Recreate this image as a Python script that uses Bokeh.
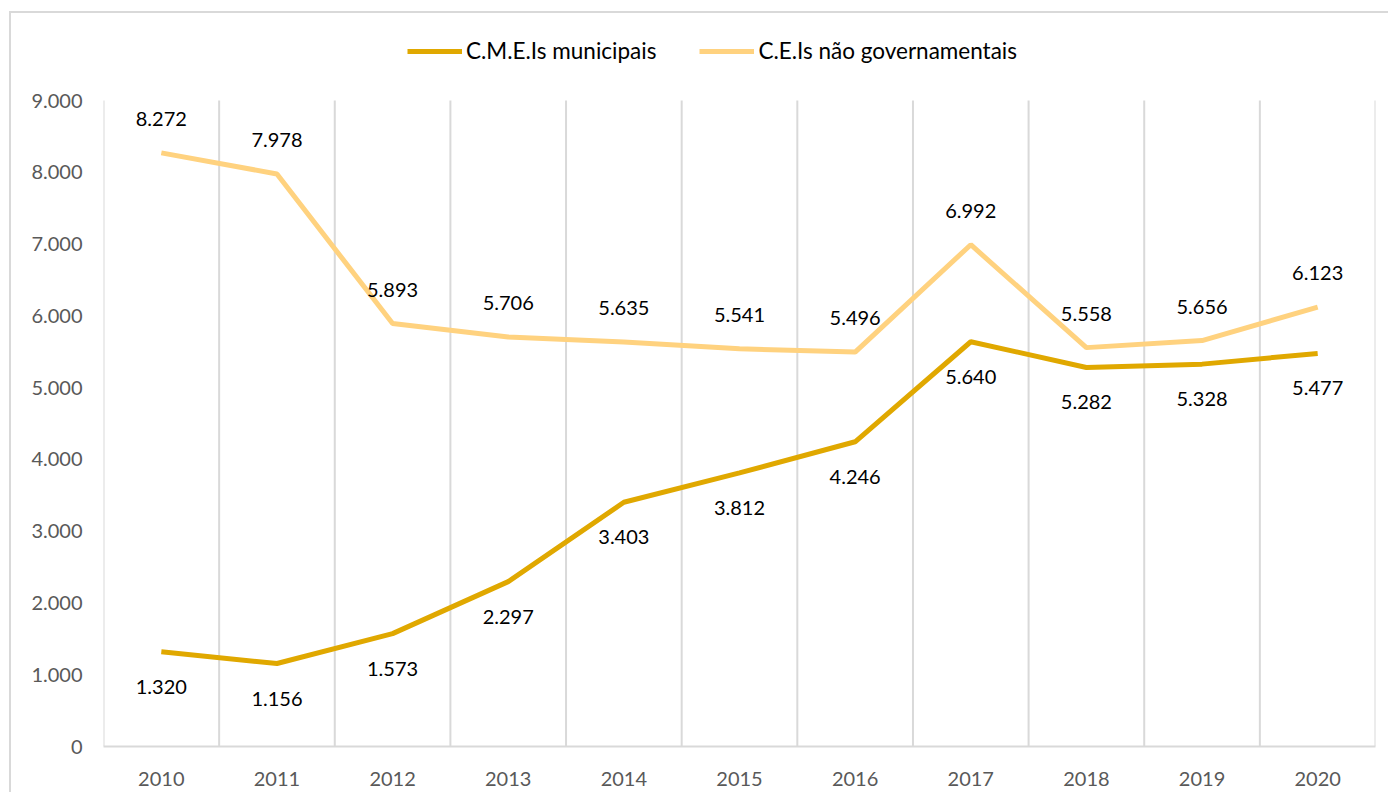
from bokeh.plotting import figure
from bokeh.models import (ColumnDataSource, Range1d, FixedTicker, LabelSet, Legend,
                          LegendItem)
from bokeh.core.properties import value
from bokeh.embed import file_html
from bokeh.resources import INLINE

years = [2010, 2011, 2012, 2013, 2014, 2015, 2016, 2017, 2018, 2019, 2020]
cmei_municipais = [1320, 1156, 1573, 2297, 3403, 3812, 4246, 5640, 5282, 5328, 5477]
cei_nao_gov = [8272, 7978, 5893, 5706, 5635, 5541, 5496, 6992, 5558, 5656, 6123]
series_names = ["C.M.E.Is municipais", "C.E.Is não governamentais"]
y_ticks = [0, 1000, 2000, 3000, 4000, 5000, 6000, 7000, 8000, 9000]

DARK = "#E0A800"
LIGHT = "#FFD27F"
GRID = "#d9d9d9"
FONT = "Lato"


def fmt(v):
    return f"{v:,}".replace(",", ".")


src_a = ColumnDataSource(dict(x=years, y=cmei_municipais, t=[fmt(v) for v in cmei_municipais]))
src_b = ColumnDataSource(dict(x=years, y=cei_nao_gov, t=[fmt(v) for v in cei_nao_gov]))

# plot frame spans from the legend area down to the axis; the value scale tops out at 9.000
# at the position of the (Excel) plot area top
FRAME_TOP, PLOT_TOP, AXIS_Y = 20, 101, 746
y_end = y_ticks[-1] * (AXIS_Y - FRAME_TOP) / (AXIS_Y - PLOT_TOP)

p = figure(width=1388, height=792, output_backend="svg", toolbar_location=None,
           x_range=Range1d(years[0] - 0.5, years[-1] + 0.5), y_range=Range1d(0, y_end),
           min_border_left=103, min_border_right=13, min_border_top=FRAME_TOP - 1,
           min_border_bottom=46,
           styles={
               "background-color": "white",
               "background-image": "linear-gradient(#d9d9d9,#d9d9d9), linear-gradient(#d9d9d9,#d9d9d9)",
               "background-size": "2px 100%, 100% 2px",
               "background-position": "9px 11px, 9px 11px",
               "background-repeat": "no-repeat",
           })
p.outline_line_color = None
p.background_fill_color = "white"
p.border_fill_alpha = 0

# vertical category-boundary grid lines, limited to the value range 0..9.000
bounds = [y - 0.5 for y in years] + [years[-1] + 0.5]
p.segment(x0=bounds, y0=[y_ticks[0]] * len(bounds), x1=bounds, y1=[y_ticks[-1]] * len(bounds),
          line_color=GRID, line_width=2)

r_a = p.line("x", "y", source=src_a, line_color=DARK, line_width=5)
r_b = p.line("x", "y", source=src_b, line_color=LIGHT, line_width=5)

p.add_layout(LabelSet(x="x", y="y", text="t", source=src_b, y_offset=27,
                      text_align="center", text_baseline="bottom", text_font=value(FONT),
                      text_font_size="20px", text_color="black"))
p.add_layout(LabelSet(x="x", y="y", text="t", source=src_a, y_offset=-28,
                      text_align="center", text_baseline="top", text_font=value(FONT),
                      text_font_size="20px", text_color="black"))

# x axis
p.xaxis.ticker = FixedTicker(ticks=years)
p.xaxis.major_label_overrides = {y: str(y) for y in years}
p.xaxis.axis_line_color = GRID
p.xaxis.axis_line_width = 2
p.xaxis.major_tick_line_color = None
p.xaxis.minor_tick_line_color = None
p.xaxis.major_label_text_font = FONT
p.xaxis.major_label_text_font_size = "20px"
p.xaxis.major_label_text_color = "#595959"
p.xaxis.major_label_standoff = 19

# y axis
p.yaxis.ticker = FixedTicker(ticks=y_ticks)
p.yaxis.major_label_overrides = {t: fmt(t) for t in y_ticks}
p.yaxis.axis_line_color = None
p.yaxis.major_tick_line_color = None
p.yaxis.minor_tick_line_color = None
p.yaxis.major_label_text_font = FONT
p.yaxis.major_label_text_font_size = "20px"
p.yaxis.major_label_text_color = "#595959"
p.yaxis.major_label_standoff = 15

p.xgrid.grid_line_color = None
p.ygrid.grid_line_color = None

legend = Legend(items=[LegendItem(label=series_names[0], renderers=[r_a]),
                       LegendItem(label=series_names[1], renderers=[r_b])],
                orientation="horizontal", location=(304, AXIS_Y - 44 - 20),
                glyph_width=55, glyph_height=20, label_standoff=4, spacing=43,
                padding=0, margin=0, border_line_color=None, background_fill_alpha=0,
                label_text_font=FONT, label_text_font_size="22.5px", label_text_color="black")
p.add_layout(legend, "center")

open("out.html", "w").write(file_html(p, INLINE))
